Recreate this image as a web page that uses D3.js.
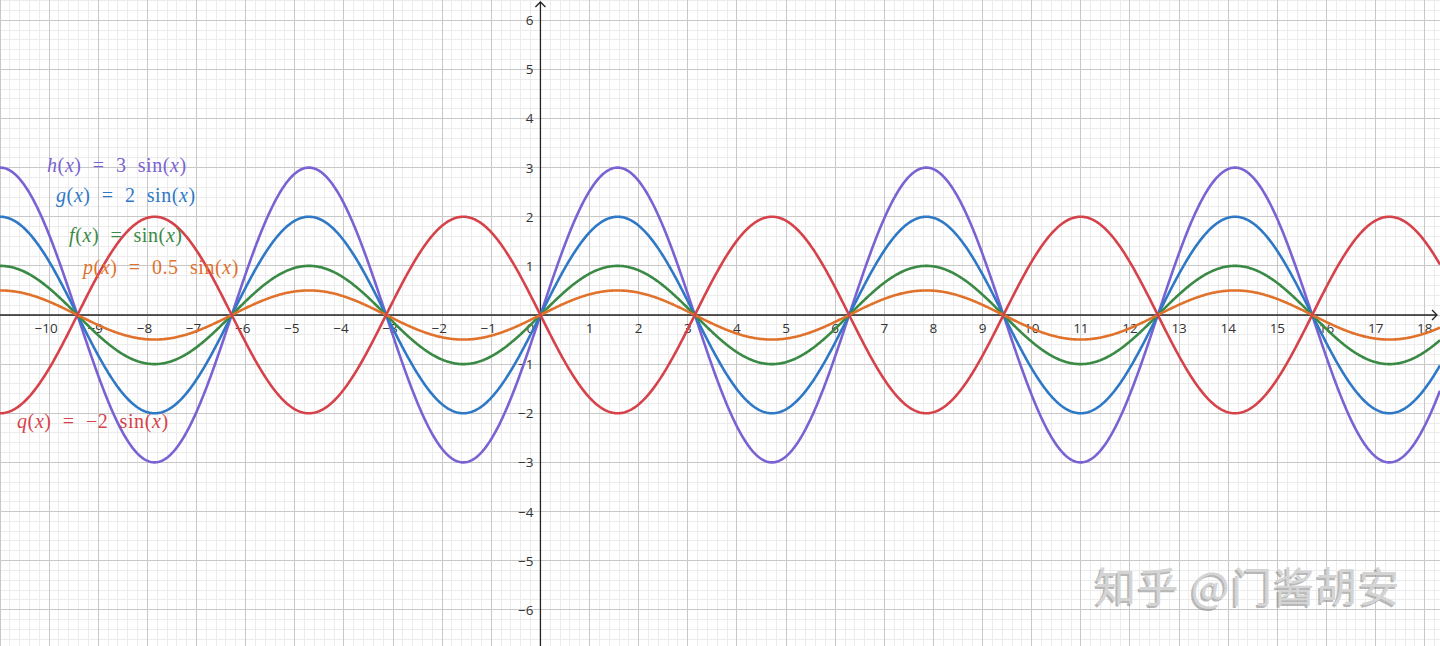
<!DOCTYPE html>
<html><head><meta charset="utf-8">
<script src="https://cdn.jsdelivr.net/npm/d3@7/dist/d3.min.js"></script>
<style>html,body{margin:0;padding:0;background:#fff;overflow:hidden} text{white-space:pre}</style>
</head><body>
<svg id="c" width="1440" height="646"></svg>
<script>
// ---- data ----
const fnNames = ["h", "g", "f", "p", "q"];
const fnCoefs = [3, 2, 1, 0.5, -2];
const fnLabelCoef = ["3  ", "2  ", "", "0.5  ", "\u22122  "];
const fnColors = ["#7a62d3", "#2f78c6", "#3a8a45", "#e0722c", "#d6424a"];
const xTicks = [-10,-9,-8,-7,-6,-5,-4,-3,-2,-1,0,1,2,3,4,5,6,7,8,9,10,11,12,13,14,15,16,17,18];
const yTicks = [-6,-5,-4,-3,-2,-1,1,2,3,4,5,6];
const labelPos = [[47,172],[56,202],[69,242],[83,274],[17,428]]; // layout only

const W = 1440, H = 646;
const svg = d3.select("#c");
const x = d3.scaleLinear().domain([-11, 18.31]).range([0, W]);
const x0 = x(0);
const unit = x(1) - x(0);
const yZero = 315;
const y = d3.scaleLinear().domain([0, 1]).range([yZero, yZero - unit]);
const xMin = x.invert(0), xMax = x.invert(W);
const yMax = y.invert(0), yMin = y.invert(H);

// minor grid
const g = svg.append("g");
for (let i = Math.ceil(xMin*5); i <= Math.floor(xMax*5); i++) {
  if (i % 5 === 0) continue;
  g.append("line").attr("x1", x(i/5)).attr("x2", x(i/5)).attr("y1",0).attr("y2",H)
   .attr("stroke","#ececec").attr("stroke-width",1).attr("shape-rendering","crispEdges");
}
for (let i = Math.ceil(yMin*5); i <= Math.floor(yMax*5); i++) {
  if (i % 5 === 0) continue;
  g.append("line").attr("y1", y(i/5)).attr("y2", y(i/5)).attr("x1",0).attr("x2",W)
   .attr("stroke","#ececec").attr("stroke-width",1).attr("shape-rendering","crispEdges");
}
// major grid
for (let i = Math.ceil(xMin); i <= Math.floor(xMax); i++) {
  g.append("line").attr("x1", x(i)).attr("x2", x(i)).attr("y1",0).attr("y2",H)
   .attr("stroke","#c8c8c8").attr("stroke-width",1).attr("shape-rendering","crispEdges");
}
for (let i = Math.ceil(yMin); i <= Math.floor(yMax); i++) {
  g.append("line").attr("y1", y(i)).attr("y2", y(i)).attr("x1",0).attr("x2",W)
   .attr("stroke","#c8c8c8").attr("stroke-width",1).attr("shape-rendering","crispEdges");
}

// watermark
const wm = svg.append("g").attr("font-family","'Noto Sans CJK SC'").attr("font-size",41).attr("font-weight",400).attr("letter-spacing",1.5);
wm.append("text").attr("x",1093).attr("y",604).attr("fill","#8a8a8a").attr("opacity",0.6).text("知乎 @门酱胡安");
wm.append("text").attr("x",1095).attr("y",602).attr("fill","#d4d4d4").text("知乎 @门酱胡安");

// axes
const ax = svg.append("g");
ax.append("line").attr("x1",0).attr("x2",W-3).attr("y1",yZero).attr("y2",yZero).attr("stroke","#222").attr("stroke-width",1.3);
ax.append("line").attr("x1",x0).attr("x2",x0).attr("y1",H).attr("y2",2).attr("stroke","#222").attr("stroke-width",1.3);
ax.append("path").attr("d",`M${W-8},${yZero-5}L${W-3},${yZero}L${W-8},${yZero+5}`).attr("fill","none").attr("stroke","#222").attr("stroke-width",1.3);
ax.append("path").attr("d",`M${x0-5},${7}L${x0},${2}L${x0+5},${7}`).attr("fill","none").attr("stroke","#222").attr("stroke-width",1.3);

const tf = "'Open Sans', 'Noto Sans', sans-serif";
const fmt = v => v < 0 ? "\u2212" + Math.abs(v) : String(v);
ax.selectAll(".xt").data(xTicks).enter().append("text")
  .attr("x", d => d === 0 ? x(d) - 10 : x(d) - (d < 0 ? 3 : 0)).attr("y", yZero + 18)
  .attr("text-anchor","middle").attr("font-family",tf).attr("font-size",13.5).attr("fill","#333").text(fmt);
ax.selectAll(".yt").data(yTicks).enter().append("text")
  .attr("x", x0 - 7).attr("y", d => y(d) + 5)
  .attr("text-anchor","end").attr("font-family",tf).attr("font-size",13.5).attr("fill","#333").text(fmt);

// curves
const xs = d3.range(0, W + 1, 1).map(px => x.invert(px));
const line = d3.line().x(d => x(d[0])).y(d => y(d[1]));
fnCoefs.forEach((a, i) => {
  svg.append("path").datum(xs.map(v => [v, a * Math.sin(v)]))
    .attr("d", line).attr("fill","none").attr("stroke", fnColors[i]).attr("stroke-width",2.6)
    .attr("stroke-linejoin","round");
});

// labels
fnNames.forEach((n, i) => {
  const t = svg.append("text").attr("x", labelPos[i][0]).attr("y", labelPos[i][1])
    .attr("font-family", "'Liberation Serif', serif").attr("font-size", 20).attr("letter-spacing", 0.6).attr("fill", fnColors[i]);
  t.append("tspan").attr("font-style","italic").text(n);
  t.append("tspan").text("(");
  t.append("tspan").attr("font-style","italic").text("x");
  t.append("tspan").text(")  =  " + fnLabelCoef[i] + "sin(");
  t.append("tspan").attr("font-style","italic").text("x");
  t.append("tspan").text(")");
});
</script>
</body></html>
